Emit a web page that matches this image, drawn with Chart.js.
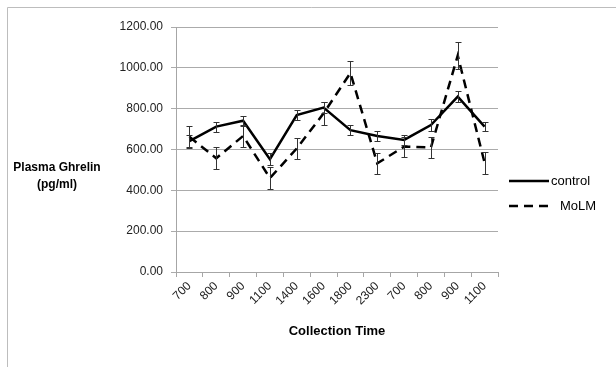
<!DOCTYPE html>
<html>
<head>
<meta charset="utf-8">
<script src="https://cdn.jsdelivr.net/npm/chart.js@4/dist/chart.umd.min.js"></script>
<style>
html,body{margin:0;padding:0;background:#fff;}
#wrap{width:616px;height:367px;position:relative;}
</style>
</head>
<body>
<div id="wrap"><canvas id="c" width="616" height="367"></canvas></div>
<script>
const categories = ['700','800','900','1100','1400','1600','1800','2300','700','800','900','1100'];
const controlValues = [641, 712, 741, 553, 769, 805, 695, 666, 647, 720, 859, 712];
const controlErrors = [28, 25, 25, 28, 26, 28, 24, 26, 25, 28, 28, 22];
const molmValues = [662, 557, 666, 460, 605, 777, 975, 532, 614, 610, 1060, 535];
const molmErrors = [55, 53, 55, 54, 53, 55, 60, 53, 49, 53, 65, 53];
const yTicks = [0, 200, 400, 600, 800, 1000, 1200];
const yTitleLines = ['Plasma Ghrelin', '(pg/ml)'];
const xTitle = 'Collection Time';
const seriesNames = ['control', 'MoLM'];

const FONT = '"Liberation Sans", Arial, sans-serif';

const errorBars = {
  id: 'errorBars',
  afterDatasetsDraw(chart) {
    const ctx = chart.ctx;
    const y = chart.scales.y;
    const errs = [controlErrors, molmErrors];
    ctx.save();
    ctx.strokeStyle = '#333';
    ctx.lineWidth = 1;
    chart.data.datasets.forEach((ds, di) => {
      const meta = chart.getDatasetMeta(di);
      meta.data.forEach((pt, i) => {
        const v = ds.data[i], e = errs[di][i];
        const x = Math.round(pt.x) + 0.5;
        const yt = Math.round(y.getPixelForValue(v + e)) + 0.5;
        const yb = Math.round(y.getPixelForValue(v - e)) + 0.5;
        ctx.beginPath();
        ctx.moveTo(x, yt); ctx.lineTo(x, yb);
        ctx.moveTo(x - 3, yt); ctx.lineTo(x + 3, yt);
        ctx.moveTo(x - 3, yb); ctx.lineTo(x + 3, yb);
        ctx.stroke();
      });
    });
    ctx.restore();
  }
};

const decor = {
  id: 'decor',
  beforeDraw(chart) {
    const ctx = chart.ctx;
    ctx.save();
    ctx.fillStyle = '#fff';
    ctx.fillRect(0, 0, chart.width, chart.height);
    ctx.strokeStyle = '#bdbdbd';
    ctx.lineWidth = 1;
    ctx.beginPath();
    ctx.moveTo(7.5, 367); ctx.lineTo(7.5, 7.5); ctx.lineTo(616, 7.5);
    ctx.stroke();
    ctx.restore();
  },
  afterDraw(chart) {
    const ctx = chart.ctx;
    const area = chart.chartArea;
    ctx.save();
    ctx.fillStyle = '#000';
    ctx.font = 'bold 12px ' + FONT;
    ctx.textAlign = 'center';
    ctx.textBaseline = 'middle';
    const midY = (area.top + area.bottom) / 2;
    ctx.fillText(yTitleLines[0], 57, midY + 18);
    ctx.fillText(yTitleLines[1], 57, midY + 35);
    ctx.font = 'bold 13px ' + FONT;
    ctx.fillText(xTitle, (area.left + area.right) / 2, 331);
    // legend
    const ds = chart.data.datasets;
    const ly = [181, 206];
    ds.forEach((d, i) => {
      ctx.strokeStyle = d.borderColor;
      ctx.lineWidth = 2.5;
      ctx.setLineDash(d.borderDash || []);
      ctx.beginPath();
      ctx.moveTo(509, ly[i]); ctx.lineTo(549, ly[i]);
      ctx.stroke();
      ctx.setLineDash([]);
      ctx.font = '13px ' + FONT;
      ctx.textAlign = 'left';
      ctx.fillStyle = '#000';
      ctx.fillText(seriesNames[i], i === 0 ? 551 : 560, ly[i]);
    });
    ctx.restore();
  }
};

new Chart(document.getElementById('c'), {
  type: 'line',
  data: {
    labels: categories,
    datasets: [
      { label: seriesNames[0], data: controlValues, borderColor: '#000', borderWidth: 2.5, pointRadius: 0, tension: 0, fill: false },
      { label: seriesNames[1], data: molmValues, borderColor: '#000', borderWidth: 2.5, borderDash: [9, 6], pointRadius: 0, tension: 0, fill: false }
    ]
  },
  options: {
    responsive: false,
    animation: false,
    events: [],
    layout: { padding: { left: 0, right: 118, top: 27, bottom: 0 } },
    plugins: { legend: { display: false }, tooltip: { enabled: false } },
    scales: {
      x: {
        type: 'category',
        offset: true,
        grid: { offset: true, drawOnChartArea: false, tickLength: 5, color: '#a6a6a6' },
        border: { color: '#a6a6a6' },
        ticks: { maxRotation: 45, minRotation: 45, autoSkip: false, color: '#222', font: { family: FONT, size: 12 }, padding: 2 },
        afterFit(s) { s.height = 95; }
      },
      y: {
        min: 0, max: 1200,
        afterBuildTicks(s) { s.ticks = yTicks.map(v => ({ value: v })); },
        grid: { color: '#ababab', tickLength: 5 },
        border: { color: '#a6a6a6' },
        ticks: { color: '#222', font: { family: FONT, size: 12 }, padding: 8, callback: v => Number(v).toFixed(2) },
        afterFit(s) { s.width = 176; }
      }
    }
  },
  plugins: [decor, errorBars]
});
</script>
</body>
</html>
